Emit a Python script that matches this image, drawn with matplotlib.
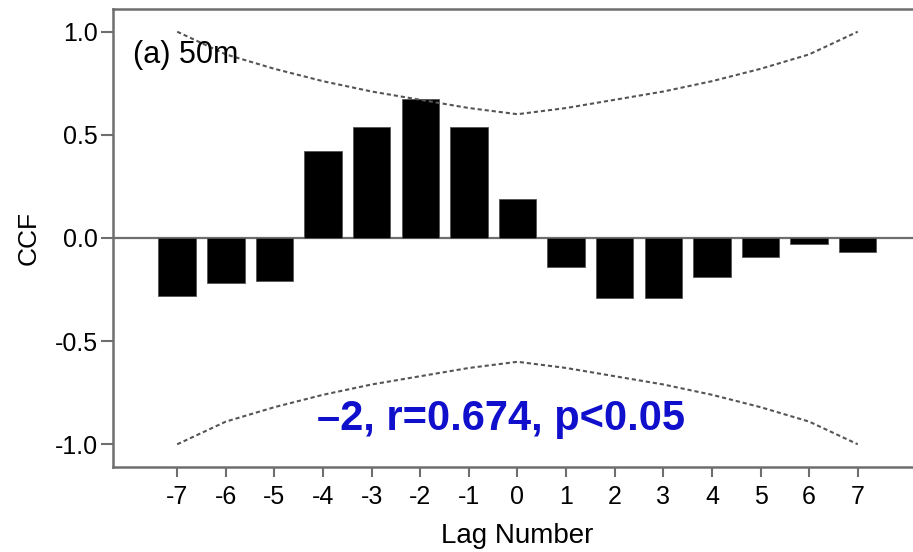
import matplotlib
matplotlib.use("Agg")
import matplotlib.pyplot as plt

# cross-correlation values
lags = [-7, -6, -5, -4, -3, -2, -1, 0, 1, 2, 3, 4, 5, 6, 7]
ccf = [-0.28, -0.22, -0.21, 0.42, 0.54, 0.674, 0.54, 0.19,
       -0.14, -0.29, -0.29, -0.19, -0.09, -0.03, -0.07]
# confidence limits (upper; lower is the mirror)
upper_lim = [1.00, 0.89, 0.82, 0.76, 0.71, 0.67, 0.63, 0.60,
             0.63, 0.67, 0.71, 0.76, 0.82, 0.89, 1.00]
lower_lim = [-v for v in upper_lim]
yticks = [-1.0, -0.5, 0.0, 0.5, 1.0]
ytick_labels = ["-1.0", "-0.5", "0.0", "0.5", "1.0"]

plt.rcParams['font.family'] = ['Liberation Sans', 'DejaVu Sans']

fig = plt.figure(figsize=(9.13, 5.52), dpi=100)
ax = fig.add_axes([0.1238, 0.154, 0.886, 0.8297])

spine_col = '#6e6e6e'
ax.bar(lags, ccf, width=0.77, color='black', edgecolor='#555555', linewidth=0.6, zorder=3)
ax.axhline(0, color=spine_col, linewidth=1.6, zorder=2)
ax.plot(lags, upper_lim, color='#555555', linewidth=1.5, linestyle=(0, (2, 1.4)), zorder=4)
ax.plot(lags, lower_lim, color='#555555', linewidth=1.5, linestyle=(0, (2, 1.4)), zorder=4)

ax.set_xlim(-8.32, 8.32)
ax.set_ylim(-1.11, 1.11)
ax.set_xticks(lags)
ax.set_xticklabels([str(l) for l in lags])
ax.set_yticks(yticks)
ax.set_yticklabels(ytick_labels)

for s in ax.spines.values():
    s.set_color(spine_col)
    s.set_linewidth(1.8)
ax.tick_params(axis='y', length=9, width=1.5, color=spine_col, labelsize=18, pad=2)
ax.tick_params(axis='x', length=7, width=1.5, color=spine_col, labelsize=18, pad=6)

ax.set_ylabel("CCF", fontsize=19, labelpad=10)
ax.set_xlabel("Lag Number", fontsize=20, labelpad=10)

ax.text(0.025, 0.90, "(a) 50m", transform=ax.transAxes, fontsize=22,
        ha='left', va='center', zorder=5)
ax.text(-0.33, -0.932, "\u20132, r=0.674, p<0.05", fontsize=30, fontweight='bold',
        color='#1010cc', ha='center', va='baseline', zorder=5)

fig.savefig("out.png", dpi=100)
